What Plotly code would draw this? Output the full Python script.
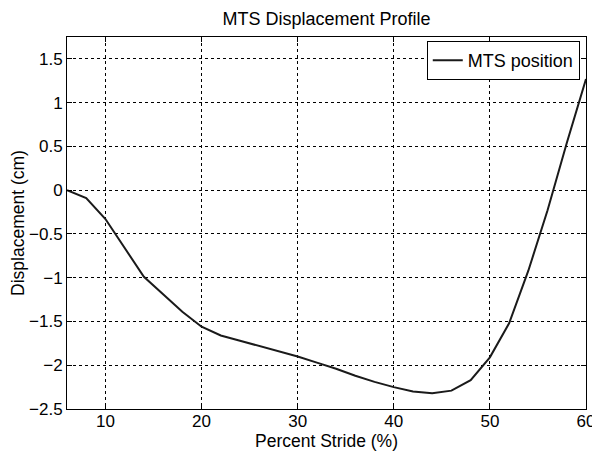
import plotly.graph_objects as go

stride_pct = [6, 8, 10, 12, 14, 16, 18, 20, 22, 24, 26, 28, 30, 32, 34, 36,
              38, 40, 42, 44, 46, 48, 50, 52, 54, 56, 58, 60]
displacement_cm = [0.0, -0.09, -0.33, -0.66, -0.99, -1.19, -1.39, -1.56, -1.66,
                   -1.72, -1.78, -1.84, -1.90, -1.97, -2.04, -2.12, -2.19, -2.25,
                   -2.30, -2.32, -2.29, -2.17, -1.91, -1.52, -0.92, -0.23, 0.54, 1.27]
x_ticks = [10, 20, 30, 40, 50, 60]
y_ticks = [-2.5, -2, -1.5, -1, -0.5, 0, 0.5, 1, 1.5]

font = "Liberation Sans, Arial, sans-serif"

fig = go.Figure()
fig.add_trace(
    go.Scatter(
        x=stride_pct,
        y=displacement_cm,
        mode="lines",
        line={"width": 2, "color": "#1a1a1a"},
        name="MTS position",
    )
)

axis_style = dict(
    showline=True,
    linecolor="black",
    linewidth=1,
    mirror="ticks",
    ticks="inside",
    ticklen=5,
    tickcolor="black",
    showgrid=True,
    gridcolor="black",
    gridwidth=1,
    griddash="dot",
    zeroline=False,
    automargin=False,
    tickfont={"size": 17, "color": "black", "family": font},
)

fig.update_xaxes(
    range=[6, 60],
    tickvals=x_ticks,
    ticklabelstandoff=-3,
    title={"text": "Percent Stride (%)", "font": {"size": 17.5, "color": "black"}, "standoff": 0},
    **axis_style,
)
fig.update_yaxes(
    range=[-2.5, 1.75],
    tickvals=y_ticks,
    ticktext=[f"{v:g}".replace("-", "\u2212") for v in y_ticks],
    title={"text": "Displacement (cm)", "font": {"size": 17.5, "color": "black"}, "standoff": 12},
    **axis_style,
)

# the page body keeps an 8 px margin, so the figure is shrunk by that much
fig.update_layout(
    width=592,
    height=449,
    plot_bgcolor="white",
    paper_bgcolor="white",
    font={"family": font, "color": "black"},
    title={
        "text": "MTS Displacement Profile",
        "x": 0.5,
        "xref": "paper",
        "y": 0.977,
        "yanchor": "middle",
        "font": {"size": 18, "color": "black"},
    },
    legend={
        "x": 0.988,
        "y": 0.989,
        "xanchor": "right",
        "yanchor": "top",
        "bgcolor": "white",
        "bordercolor": "black",
        "borderwidth": 1,
        "font": {"size": 18, "color": "black"},
        "itemwidth": 30,
        "tracegroupgap": 0,
    },
    showlegend=True,
    margin={"l": 59, "r": 14, "t": 29, "b": 48},
)

fig.write_html("out.html")
